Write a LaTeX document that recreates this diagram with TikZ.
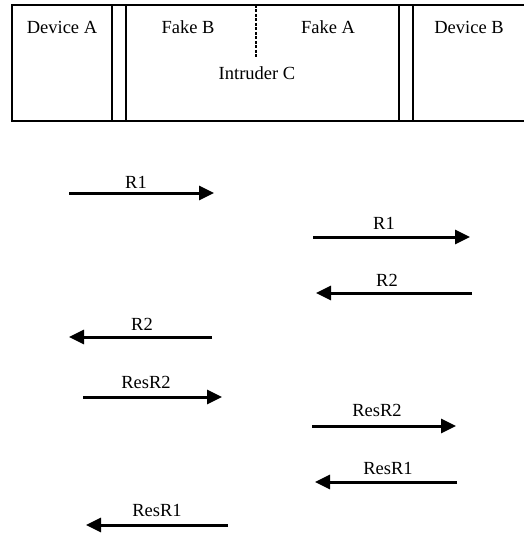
\documentclass[tikz,border=0pt]{standalone}
\usepackage{fontspec}
\setmainfont{Liberation Serif}
\usetikzlibrary{arrows.meta}
\begin{document}
\begin{tikzpicture}[x=1pt, y=-1pt]
    \tikzstyle{txt}=[inner sep=0pt, font=\fontsize{18.5}{20}\selectfont]
    \tikzstyle{msg}=[line width=3pt, -{Triangle[length=15pt, width=14pt]}]
    \tikzstyle{frame}=[line width=2.2pt]
    \useasboundingbox (0,0) rectangle (524,535);
    % header
    \draw[frame] (524,5) -- (12,5) -- (12,121) -- (524,121);
    \foreach \x in {112,126,399,413}
      \draw[frame] (\x,5) -- (\x,121);
    \draw[line width=2pt, dash pattern=on 3pt off 1.5pt] (256,5) -- (256,58);
    \node[txt] (devA) at (62,27) {Device A};
    \node[txt] (fakeB) at (188,27) {Fake B};
    \node[txt] (fakeA) at (328,27) {Fake A};
    \node[txt] (devB) at (469,27) {Device B};
    \node[txt] (intC) at (257,73) {Intruder C};
    % messages
    \coordinate (a1) at (69,193);  \coordinate (b1) at (214,193);
    \coordinate (a2) at (313,237); \coordinate (b2) at (470,237);
    \coordinate (a3) at (472,293); \coordinate (b3) at (316,293);
    \coordinate (a4) at (212,337); \coordinate (b4) at (69,337);
    \coordinate (a5) at (83,397);  \coordinate (b5) at (222,397);
    \coordinate (a6) at (312,426); \coordinate (b6) at (456,426);
    \coordinate (a7) at (457,482); \coordinate (b7) at (315,482);
    \coordinate (a8) at (228,525); \coordinate (b8) at (86,525);
    \draw[msg] (a1) -- (b1);
    \draw[msg] (a2) -- (b2);
    \draw[msg] (a3) -- (b3);
    \draw[msg] (a4) -- (b4);
    \draw[msg] (a5) -- (b5);
    \draw[msg] (a6) -- (b6);
    \draw[msg] (a7) -- (b7);
    \draw[msg] (a8) -- (b8);
    \node[txt] (l1) at (136,182) {R1};
    \node[txt] (l2) at (384,223) {R1};
    \node[txt] (l3) at (387,280) {R2};
    \node[txt] (l4) at (142,324) {R2};
    \node[txt] (l5) at (146,382) {ResR2};
    \node[txt] (l6) at (377,410) {ResR2};
    \node[txt] (l7) at (388,468) {ResR1};
    \node[txt] (l8) at (157,510) {ResR1};
\end{tikzpicture}
\end{document}
